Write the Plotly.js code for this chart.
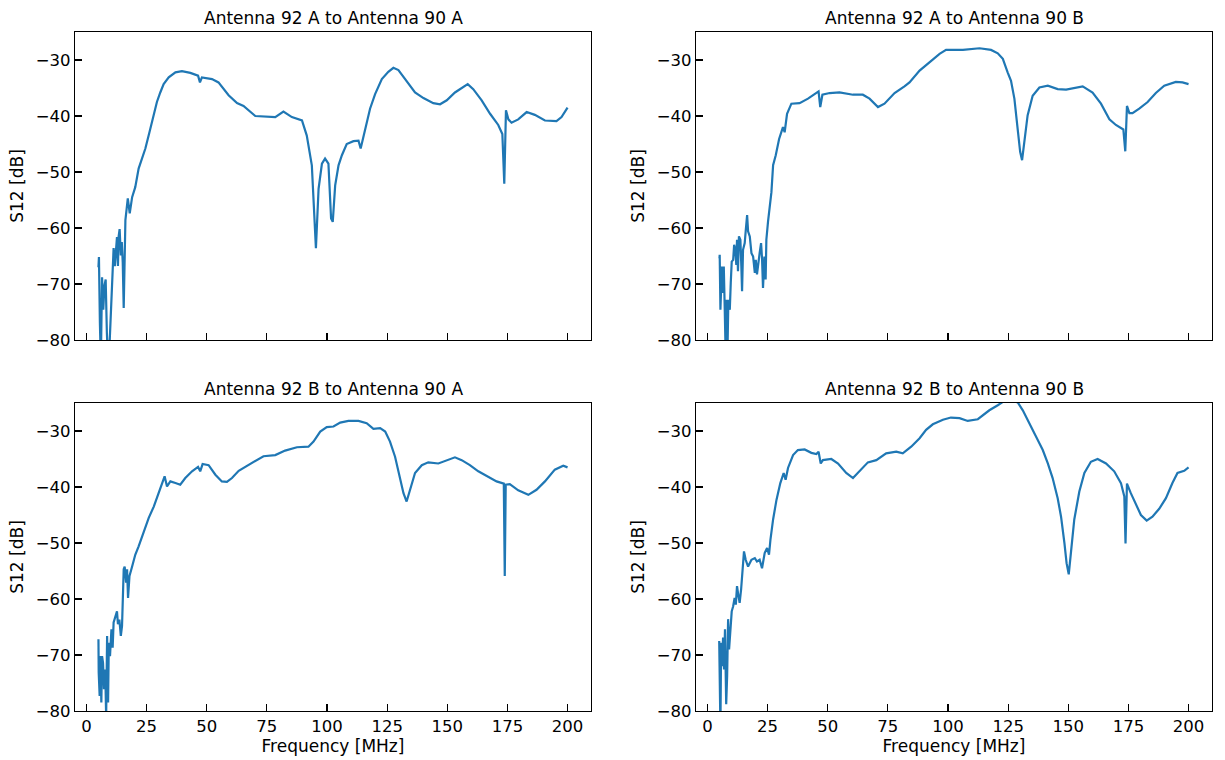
<!DOCTYPE html>
<html>
<head>
<meta charset="utf-8">
<script src="https://cdn.plot.ly/plotly-3.0.1.min.js"></script>
<style>html,body{margin:0;padding:0;background:#fff;}#chart{width:1225px;height:760px;}</style>
</head>
<body>
<div id="chart"></div>
<script>
// ---- Data (frequency in MHz, S12 in dB) ----
const panelTitles = ["Antenna 92 A to Antenna 90 A", "Antenna 92 A to Antenna 90 B",
                     "Antenna 92 B to Antenna 90 A", "Antenna 92 B to Antenna 90 B"];
const xTickVals = [0, 25, 50, 75, 100, 125, 150, 175, 200];
const yTickVals = [-80, -70, -60, -50, -40, -30];
const xLabel = "Frequency [MHz]";
const yLabel = "S12 [dB]";

const freq_92A_90A = [5.0,5.2,5.6,6.0,6.5,7.0,7.5,8.0,8.5,9.0,9.5,10.0,10.4,10.9,11.3,11.8,12.2,12.7,13.1,13.4,13.8,14.3,14.7,15.1,15.5,15.9,16.2,
  17.2,18.0,19.0,20.3,21.7,23.1,24.5,26.2,28.0,29.3,30.7,32.1,34.2,37.0,39.7,43.2,46.4,47.2,48.0,52.2,54.9,59.1,62.6,65.3,70.2,74.3,78.5,81.9,85.4,89.6,
  91.6,93.7,95.4,96.5,97.9,99.2,100.6,101.7,102.4,103.4,104.8,106.2,108.2,111.0,113.1,114.0,115.8,117.9,120.0,122.8,125.5,127.6,129.7,133.1,136.6,140.1,
  144.2,147.0,149.8,153.2,156.0,158.5,160.8,164.3,167.8,171.2,172.9,173.7,174.4,175.4,176.7,179.5,183.0,186.4,190.6,195.4,197.5,200.0];
const s12_92A_90A = [-67.0,-65.2,-77.0,-84.0,-68.8,-74.6,-70.3,-69.2,-78.7,-84.0,-82.0,-77.5,-71.6,-68.3,-63.6,-66.8,-65.0,-61.6,-66.8,-61.5,-60.2,-64.9,-62.5,-66.2,-74.3,-62.0,-58.6,
  -54.7,-57.4,-54.5,-52.7,-49.4,-47.6,-45.8,-42.9,-39.9,-37.5,-35.8,-34.3,-33.1,-32.2,-32.0,-32.3,-32.8,-34.0,-33.1,-33.4,-34.0,-36.3,-37.7,-38.2,-40.0,-40.1,-40.2,-39.2,-40.2,-40.8,
  -43.5,-48.8,-63.6,-53.0,-48.5,-47.6,-48.5,-58.3,-58.9,-52.4,-48.8,-47.0,-45.0,-44.5,-44.4,-45.8,-42.3,-38.7,-36.1,-33.4,-32.1,-31.4,-31.8,-33.7,-35.8,-36.8,
  -37.7,-37.9,-37.2,-35.8,-35.0,-34.3,-35.2,-37.2,-39.6,-41.6,-43.2,-52.1,-39.0,-40.6,-41.2,-40.6,-39.3,-39.8,-40.8,-40.9,-40.2,-38.5];

const freq_92A_90B = [5.0,5.1,5.4,6.0,6.2,6.8,7.2,7.6,7.9,8.3,8.7,9.3,9.7,10.1,10.7,11.1,11.6,12.0,12.3,12.7,13.1,13.7,14.1,14.4,14.8,15.5,15.9,16.5,16.9,17.6,
  18.3,19.0,19.7,20.1,20.6,21.2,21.7,22.3,22.7,23.1,23.7,24.2,24.5,25.2,25.9,
  26.6,27.3,28.4,29.8,31.4,32.1,33.1,34.9,38.3,41.8,45.3,46.2,46.9,47.8,50.8,54.9,60.5,64.6,67.4,70.9,73.6,77.8,81.9,84.0,88.2,92.3,96.5,99.2,106.2,113.1,
  117.9,120.7,122.8,124.8,126.2,127.6,129.0,130.0,130.8,131.8,133.1,135.2,138.0,141.5,145.6,149.1,152.5,156.0,160.1,163.6,167.1,169.8,172.9,173.7,174.4,
  175.4,176.7,179.5,183.0,186.4,189.9,194.7,197.5,200.0];
const s12_92A_90B = [-65.4,-64.8,-74.6,-66.9,-71.6,-66.9,-74.6,-83,-72.8,-83,-72.8,-74.6,-69.8,-66.0,-65.7,-63.0,-63.9,-66.6,-62.1,-67.7,-61.5,-62.1,-66.9,-71.3,-63.9,-62.7,-60.6,-57.7,-60.6,-61.5,
  -64.5,-65.1,-68.0,-65.7,-68.3,-65.4,-64.5,-62.7,-65.4,-70.7,-65.1,-69.2,-62.1,-58.8,-56.2,
  -53.6,-48.8,-47.0,-44.1,-42.0,-42.9,-39.6,-37.8,-37.7,-36.9,-35.9,-35.6,-38.4,-36.2,-35.9,-35.8,-36.2,-36.2,-36.9,-38.4,-37.8,-35.9,-34.7,-34.0,-31.9,-30.4,-28.9,-28.2,-28.2,-27.9,
  -28.2,-28.8,-29.8,-32.2,-33.7,-36.9,-42.3,-46.4,-47.9,-44.7,-39.9,-36.4,-34.9,-34.6,-35.2,-35.3,-35.0,-34.7,-35.8,-37.8,-40.6,-41.6,-42.4,-46.3,-38.2,
  -39.5,-39.5,-38.7,-37.5,-35.9,-34.6,-33.9,-34.0,-34.3];

const freq_92B_90A = [5.0,5.1,5.5,5.8,6.2,6.5,6.9,7.3,7.8,8.2,8.6,9.0,9.3,9.8,10.4,10.9,11.3,12.0,12.7,13.1,13.7,14.3,14.8,15.5,15.9,16.5,16.9,17.3,17.9,19.0,
  20.3,21.7,23.1,24.5,25.9,28.0,30.0,31.7,32.5,33.5,34.9,37.0,39.0,41.1,43.9,46.4,47.3,48.3,50.8,53.6,56.3,58.4,60.5,63.3,67.4,70.9,73.6,78.5,82.6,87.5,
  92.3,94.4,97.2,99.9,102.7,105.5,108.9,113.1,116.5,119.3,122.1,124.2,126.2,128.3,130.4,131.8,133.1,134.5,136.6,139.4,142.1,146.3,149.8,153.2,156.0,159.4,
  162.9,167.1,170.5,173.5,173.9,174.3,176.0,179.5,183.7,187.1,190.6,194.7,198.2,200.0];
const s12_92B_90A = [-67.2,-73.1,-77.3,-70.2,-78.5,-70.2,-71.4,-76.1,-72.6,-81.0,-66.6,-78.5,-67.8,-70.2,-65.4,-68.7,-64.2,-63.1,-62.2,-64.5,-63.7,-66.6,-64.8,-54.7,-54.2,-57.1,-54.7,-59.8,-55.9,-54.2,
  -52.1,-50.6,-48.8,-47.3,-45.5,-43.5,-41.1,-39.3,-38.1,-39.9,-39.0,-39.3,-39.6,-38.4,-37.2,-36.4,-37.2,-35.9,-36.1,-37.8,-39.0,-39.1,-38.4,-37.1,-36.1,-35.2,-34.5,-34.3,-33.5,-32.9,
  -32.8,-31.9,-30.1,-29.3,-29.2,-28.5,-28.2,-28.2,-28.6,-29.6,-29.5,-30.1,-31.9,-34.6,-38.4,-41.1,-42.6,-40.5,-37.5,-36.1,-35.6,-35.8,-35.2,-34.7,-35.2,-36.1,
  -37.2,-38.2,-39.0,-39.4,-55.9,-39.6,-39.5,-40.6,-41.4,-40.5,-39.0,-36.9,-36.2,-36.5];

const freq_92B_90B = [4.9,5.0,5.1,5.4,5.7,6.1,6.5,6.9,7.3,7.8,8.2,8.6,9.0,9.6,10.1,10.7,11.3,11.8,12.3,12.9,13.4,14.0,14.5,15.2,15.9,16.9,18.3,19.7,20.6,21.7,
  22.7,23.8,24.8,25.6,26.2,27.3,28.7,30.3,31.7,32.5,33.5,35.6,37.6,40.4,43.2,45.3,46.2,47.1,48.0,51.5,54.3,57.7,60.5,63.3,66.7,70.2,74.3,78.5,81.2,84.7,
  88.2,90.9,93.7,97.9,101.2,104.8,108.2,112.4,114.5,117.2,120.7,122.8,126.2,129.0,131.1,133.8,136.6,139.4,141.5,143.5,145.6,147.0,148.4,149.3,150.2,151.1,
  152.5,154.6,156.7,159.4,162.2,165.7,169.1,171.9,173.3,173.8,174.4,176.0,178.1,180.2,182.6,185.0,187.8,190.6,193.3,195.4,198.2,200.0];
const s12_92B_90B = [-67.5,-83.0,-71.4,-83.0,-67.8,-72.0,-66.9,-72.6,-65.4,-78.8,-73.7,-63.6,-69.0,-64.2,-62.2,-61.3,-59.8,-61.0,-57.7,-59.5,-60.7,-58.3,-55.9,-51.5,-53.0,-54.2,-53.0,-52.7,-53.3,-53.0,
  -54.5,-51.8,-50.9,-52.1,-49.4,-45.8,-42.3,-39.3,-37.5,-38.7,-36.6,-34.3,-33.4,-33.3,-33.9,-34.1,-33.7,-35.8,-35.2,-35.0,-35.8,-37.5,-38.4,-37.2,-35.6,-35.2,-34.0,-33.7,-34.0,-32.8,
  -31.3,-29.8,-28.8,-28.0,-27.6,-27.7,-28.2,-27.9,-27.2,-26.3,-25.4,-24.8,-24.5,-24.9,-26.3,-28.6,-31.0,-33.4,-35.8,-38.4,-42.0,-45.3,-50.0,-53.6,-55.6,-51.2,
  -45.8,-40.8,-37.5,-35.5,-35.0,-35.8,-37.2,-39.3,-41.7,-50.1,-39.4,-41.1,-43.2,-45.0,-46.0,-45.3,-43.9,-42.0,-39.3,-37.5,-37.1,-36.5];

const seriesX = [freq_92A_90A, freq_92A_90B, freq_92B_90A, freq_92B_90B];
const seriesY = [s12_92A_90A, s12_92A_90B, s12_92B_90A, s12_92B_90B];

// ---- Layout geometry (pixels of 1225x760 figure) ----
const W = 1225, H = 760;
const colPx = [[75, 591], [696, 1212]];
const rowPx = [[32, 340], [403, 711]];
const FONT = "DejaVu Sans, Liberation Sans, sans-serif";
const lineColor = "#1f77b4";

const traces = [];
const layout = {
  width: W, height: H,
  margin: {l: 0, r: 0, t: 0, b: 0},
  paper_bgcolor: "#ffffff", plot_bgcolor: "#ffffff",
  showlegend: false,
  font: {family: FONT, size: 16, color: "#000"},
  annotations: []
};

for (let i = 0; i < 4; i++) {
  const r = Math.floor(i / 2), c = i % 2;
  const n = i + 1;
  const xa = n === 1 ? "x" : "x" + n;
  const ya = n === 1 ? "y" : "y" + n;
  traces.push({
    type: "scatter", mode: "lines",
    x: seriesX[i], y: seriesY[i],
    xaxis: xa, yaxis: ya,
    line: {color: lineColor, width: 2.2},
    hoverinfo: "x+y"
  });
  const xd = [colPx[c][0] / W, colPx[c][1] / W];
  const yd = [1 - rowPx[r][1] / H, 1 - rowPx[r][0] / H];
  const xkey = n === 1 ? "xaxis" : "xaxis" + n;
  const ykey = n === 1 ? "yaxis" : "yaxis" + n;
  layout[xkey] = {
    domain: xd, anchor: ya,
    range: [-4.75, 209.75],
    tickmode: "array", tickvals: xTickVals,
    ticktext: xTickVals.map(String),
    showticklabels: r === 1,
    ticks: "inside", ticklen: 7, tickwidth: 1.1, tickcolor: "#000",
    showline: true, linecolor: "#000", linewidth: 1.1, mirror: true,
    showgrid: false, zeroline: false,
    tickfont: {family: FONT, size: 16.5, color: "#000"},
    title: r === 1 ? {text: xLabel, font: {family: FONT, size: 17, color: "#000"}, standoff: 5} : {text: ""}
  };
  layout[ykey] = {
    domain: yd, anchor: xa,
    range: [-80, -25],
    tickmode: "array", tickvals: yTickVals,
    ticktext: yTickVals.map(v => "\u2212" + Math.abs(v)),
    ticks: "inside", ticklen: 7, tickwidth: 1.1, tickcolor: "#000",
    showline: true, linecolor: "#000", linewidth: 1.1, mirror: true,
    showgrid: false, zeroline: false,
    tickfont: {family: FONT, size: 16.5, color: "#000"},
    title: {text: yLabel, font: {family: FONT, size: 17, color: "#000"}, standoff: 7}
  };
  layout.annotations.push({
    text: panelTitles[i], xref: "paper", yref: "paper",
    x: (xd[0] + xd[1]) / 2, y: yd[1] + 2 / H,
    xanchor: "center", yanchor: "bottom", showarrow: false,
    font: {family: FONT, size: 17, color: "#000"}
  });
}

Plotly.newPlot("chart", traces, layout, {displayModeBar: false, staticPlot: true});
</script>
</body>
</html>
